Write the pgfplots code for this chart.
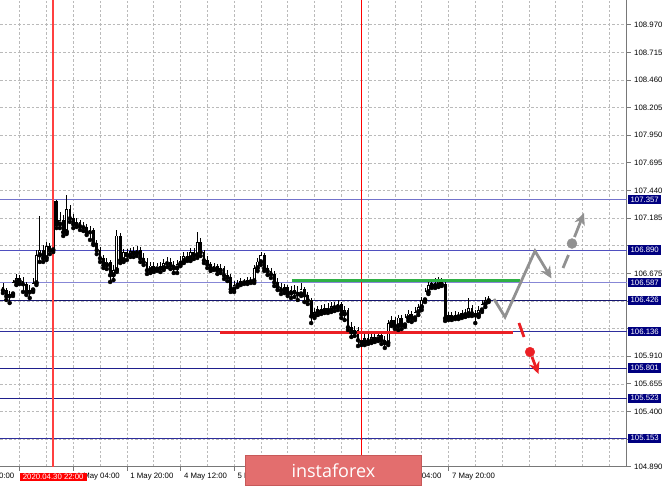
\documentclass[border=0pt]{standalone}
\usepackage{pgfplots}
\pgfplotsset{compat=1.18}
\usepackage{pgfplotstable}
\usepackage{fontspec}
\setmainfont{Liberation Sans}
\newfontfamily\logofont{Open Sans}
\usetikzlibrary{arrows.meta}

\definecolor{gridc}{rgb}{0.73,0.73,0.73}
\definecolor{axc}{rgb}{0.47,0.47,0.47}
\definecolor{lvA}{rgb}{0.45,0.45,0.80}
\definecolor{lvB}{rgb}{0.31,0.31,0.75}
\definecolor{lvC}{rgb}{0.53,0.53,0.84}
\definecolor{lvD}{rgb}{0.08,0.08,0.43}
\definecolor{lvE}{rgb}{0.18,0.18,0.61}
\definecolor{lvF}{rgb}{0.12,0.12,0.55}
\definecolor{navyc}{rgb}{0,0,0.5}
\definecolor{grn}{rgb}{0.18,0.69,0.27}
\definecolor{redl}{rgb}{0.92,0.12,0.14}
\definecolor{arrg}{rgb}{0.57,0.57,0.57}
\definecolor{logoc}{rgb}{0.89,0.43,0.43}
\definecolor{logob}{rgb}{0.78,0.35,0.35}

\newcommand{\lab}{\fontsize{7.8}{9}\selectfont}

\pgfplotstableread{
t o h l c
-21 106.549 106.586 106.493 106.521
-20 106.521 106.540 106.429 106.466
-19 106.466 106.512 106.401 106.484
-18 106.484 106.613 106.466 106.595
-17 106.595 106.669 106.567 106.632
-16 106.632 106.660 106.577 106.604
-15 106.604 106.641 106.503 106.577
-14 106.577 106.595 106.475 106.503
-13 106.503 106.567 106.447 106.521
-12 106.521 106.632 106.503 106.586
-11 106.586 106.890 106.567 106.844
-10 106.844 107.204 106.780 106.890
-9 106.890 106.937 106.780 106.817
-8 106.817 106.964 106.798 106.927
-7 106.927 106.955 106.853 106.890
-6 106.890 107.352 106.872 107.343
-5 107.343 107.352 107.093 107.130
-4 107.130 107.241 107.093 107.167
-3 107.167 107.213 107.020 107.057
-2 107.057 107.398 107.038 107.269
-1 107.269 107.306 107.149 107.186
0 107.186 107.223 107.093 107.130
1 107.130 107.186 107.103 107.149
2 107.149 107.167 107.075 107.112
3 107.112 107.149 107.066 107.103
4 107.103 107.130 107.029 107.057
5 107.057 107.112 106.983 107.075
6 107.075 107.093 106.937 106.955
7 106.955 106.983 106.853 106.890
8 106.890 106.918 106.780 106.817
9 106.817 106.844 106.724 106.752
10 106.752 106.817 106.715 106.780
11 106.780 106.798 106.595 106.660
12 106.660 106.752 106.613 106.706
13 106.706 107.075 106.687 107.020
14 107.020 107.047 106.770 106.798
15 106.798 106.900 106.780 106.872
16 106.872 106.900 106.798 106.844
17 106.844 106.909 106.826 106.881
18 106.881 106.918 106.826 106.863
19 106.863 106.927 106.835 106.890
20 106.890 106.918 106.780 106.817
21 106.817 106.863 106.752 106.780
22 106.780 106.817 106.669 106.706
23 106.706 106.780 106.678 106.743
24 106.743 106.780 106.687 106.715
25 106.715 106.770 106.697 106.743
26 106.743 106.780 106.687 106.724
27 106.724 106.807 106.706 106.770
28 106.770 106.826 106.733 106.780
29 106.780 106.817 106.715 106.752
30 106.752 106.789 106.678 106.724
31 106.724 106.798 106.678 106.761
32 106.761 106.835 106.743 106.789
33 106.789 106.872 106.770 106.835
34 106.835 106.872 106.789 106.817
35 106.817 106.909 106.789 106.872
36 106.872 106.909 106.807 106.844
37 106.844 107.057 106.817 106.964
38 106.964 107.001 106.835 106.872
39 106.872 106.890 106.770 106.798
40 106.798 106.835 106.724 106.761
41 106.761 106.780 106.697 106.724
42 106.724 106.770 106.706 106.743
43 106.743 106.761 106.669 106.706
44 106.706 106.761 106.678 106.724
45 106.724 106.743 106.623 106.660
46 106.660 106.706 106.604 106.641
47 106.641 106.669 106.503 106.530
48 106.530 106.604 106.503 106.567
49 106.567 106.613 106.549 106.586
50 106.586 106.632 106.567 106.604
51 106.604 106.623 106.577 106.595
52 106.595 106.641 106.577 106.613
53 106.613 106.641 106.586 106.604
54 106.604 106.752 106.586 106.724
55 106.724 106.817 106.697 106.780
56 106.780 106.872 106.752 106.844
57 106.844 106.863 106.697 106.724
58 106.724 106.752 106.660 106.697
59 106.697 106.724 106.632 106.669
60 106.669 106.697 106.558 106.595
61 106.595 106.632 106.521 106.549
62 106.549 106.586 106.484 106.521
63 106.521 106.577 106.493 106.549
64 106.549 106.567 106.466 106.493
65 106.493 106.558 106.447 106.521
66 106.521 106.567 106.457 106.503
67 106.503 106.558 106.429 106.484
68 106.484 106.586 106.466 106.530
69 106.530 106.549 106.410 106.475
70 106.475 106.503 106.392 106.429
71 106.429 106.447 106.216 106.281
72 106.281 106.355 106.263 106.318
73 106.318 106.373 106.290 106.346
74 106.346 106.383 106.300 106.327
75 106.327 106.392 106.309 106.355
76 106.355 106.401 106.309 106.336
77 106.336 106.410 106.318 106.373
78 106.373 106.410 106.327 106.364
79 106.364 106.429 106.336 106.392
80 106.392 106.410 106.263 106.300
81 106.300 106.373 106.244 106.336
82 106.336 106.355 106.152 106.180
83 106.180 106.226 106.087 106.133
84 106.133 106.189 106.097 106.152
85 106.152 106.180 106.004 106.060
86 106.060 106.097 106.013 106.041
87 106.041 106.115 106.013 106.078
88 106.078 106.115 106.023 106.050
89 106.050 106.133 106.032 106.087
90 106.087 106.124 106.041 106.069
91 106.069 106.143 106.050 106.106
92 106.106 106.124 106.023 106.060
93 106.060 106.097 105.986 106.032
94 106.032 106.244 106.013 106.216
95 106.216 106.281 106.189 106.244
96 106.244 106.272 106.161 106.189
97 106.189 106.290 106.152 106.263
98 106.263 106.290 106.161 106.198
99 106.198 106.300 106.180 106.263
100 106.263 106.336 106.235 106.300
101 106.300 106.327 106.226 106.263
102 106.263 106.364 106.244 106.318
103 106.318 106.392 106.290 106.364
104 106.364 106.457 106.336 106.429
105 106.429 106.540 106.410 106.503
106 106.503 106.604 106.484 106.567
107 106.567 106.623 106.540 106.586
108 106.586 106.632 106.540 106.567
109 106.567 106.641 106.549 106.604
110 106.604 106.632 106.558 106.577
111 106.577 106.604 106.235 106.263
112 106.263 106.318 106.244 106.290
113 106.290 106.318 106.244 106.272
114 106.272 106.327 106.253 106.290
115 106.290 106.318 106.253 106.281
116 106.281 106.336 106.263 106.309
117 106.309 106.346 106.272 106.300
118 106.300 106.447 106.281 106.355
119 106.355 106.383 106.281 106.309
120 106.309 106.336 106.216 106.290
121 106.290 106.373 106.272 106.336
122 106.336 106.429 106.318 106.392
123 106.392 106.457 106.364 106.429
124 106.429 106.466 106.410 106.438
}\candles

\begin{document}
\begin{tikzpicture}
\useasboundingbox (0pt,0pt) rectangle (665pt,487pt);
\begin{axis}[
  at={(0pt,487pt)}, anchor=north west,
  scale only axis, width=626.7pt, height=466.7pt,
  xmin=-21.88, xmax=165.2, ymin=104.89, ymax=109.198,
  clip=false,
  axis x line*=bottom, axis y line*=right,
  axis line style={axc, line width=0.9pt},
  tick style={axc, line width=0.7pt},
  tick align=outside, major tick length=4pt, minor tick length=0pt,
  xtick={-16,0,16,32,48,64,80,96,112},
  xticklabels={,1 May 04:00,1 May 20:00,4 May 12:00,5 May 04:00,,,7 May 04:00,7 May 20:00},
  minor xtick={-8,8,24,40,56,72,88,104,120,128,136,144,152,160},
  ytick={104.890,105.145,105.400,105.655,105.910,106.165,106.420,106.675,106.930,107.185,107.440,107.695,107.950,108.205,108.460,108.715,108.970},
  yticklabels={104.890,,105.400,105.655,105.910,,,106.675,,107.185,107.440,107.695,107.950,108.205,108.460,108.715,108.970},
  grid=both,
  major grid style={gridc, dash pattern=on 2.5pt off 2pt, line width=0.6pt},
  minor grid style={gridc, dash pattern=on 2.5pt off 2pt, line width=0.6pt},
  xticklabel style={anchor=west, yshift=-6.3pt, font=\lab, text=black},
  yticklabel style={anchor=west, font=\lab, text=black},
  /pgf/number format/assume math mode=true,
]
% level lines
\addplot[color=lvA, line width=1pt] coordinates {(-21.88,107.357) (165.2,107.357)};
\addplot[color=lvB, line width=1pt] coordinates {(-21.88,106.890) (165.2,106.890)};
\addplot[color=lvC, line width=1pt] coordinates {(-21.88,106.587) (165.2,106.587)};
\addplot[color=lvD, line width=1pt] coordinates {(-21.88,106.426) (165.2,106.426)};
\addplot[color=lvE, line width=1pt] coordinates {(-21.88,106.136) (165.2,106.136)};
\addplot[color=lvF, line width=1pt] coordinates {(-21.88,105.801) (165.2,105.801)};
\addplot[color=lvF, line width=1pt] coordinates {(-21.88,105.523) (165.2,105.523)};
\addplot[color=lvE, line width=1pt] coordinates {(-21.88,105.153) (165.2,105.153)};

% candles: wicks
\addplot[only marks, mark=none, error bars/.cd, y dir=plus, y explicit, error mark=none,
  error bar style={black, line width=0.7pt}]
  table[x=t, y=l, y error expr={\thisrow{h}-\thisrow{l}}] {\candles};
% bodies
\addplot[only marks, mark=none, error bars/.cd, y dir=plus, y explicit, error mark=none,
  error bar style={black, line width=2.8pt}]
  table[x=t, y expr={min(\thisrow{o},\thisrow{c})-0.003}, y error expr={abs(\thisrow{c}-\thisrow{o})+0.006}] {\candles};
% bullish interiors
\addplot[only marks, mark=none, restrict expr to domain={\thisrow{c}-\thisrow{o}}{0.02:5},
  error bars/.cd, y dir=plus, y explicit, error mark=none,
  error bar style={white, line width=1.3pt}]
  table[x=t, y expr={\thisrow{o}+0.005}, y error expr={\thisrow{c}-\thisrow{o}-0.010}] {\candles};

% vertical lines
\addplot[red!75, line width=1.5pt] coordinates {(-6,104.89) (-6,109.198)};
\addplot[red, line width=1pt] coordinates {(86,104.89) (86,109.198)};

% green and red support/resistance
\addplot[color=grn, line width=3pt] coordinates {(65.28,106.609) (133.34,106.609)};
\addplot[color=redl, line width=3pt] coordinates {(43.79,106.133) (131.25,106.133)};

% gray scenario arrows
\addplot[color=arrg, line width=2.8pt, line join=miter, -{Stealth[length=12pt,width=11pt]}]
  coordinates {(125.58,106.438) (128.87,106.272) (137.82,106.881) (142.75,106.627)};
\addplot[color=arrg, line width=2.8pt] coordinates {(146.18,106.724) (147.82,106.844)};
\addplot[color=arrg, only marks, mark=*, mark size=5pt] coordinates {(148.87,106.950)};
\addplot[color=arrg, line width=2.8pt, -{Stealth[length=12pt,width=11pt]}]
  coordinates {(149.61,107.010) (152.45,107.232)};

% red scenario arrows
\addplot[color=redl, line width=2.8pt] coordinates {(133.04,106.2165) (134.54,106.087)};
\addplot[color=redl, only marks, mark=*, mark size=4.8pt] coordinates {(136.33,105.949)};
\addplot[color=redl, line width=2.8pt, -{Stealth[length=12pt,width=11pt]}]
  coordinates {(136.93,105.903) (138.87,105.746)};

% price labels
\node[fill=navyc, text=white, font=\lab, inner xsep=2.4pt, inner ysep=1.8pt, anchor=west, xshift=1.3pt] at (axis cs:165.2,107.357) {107.357};
\node[fill=navyc, text=white, font=\lab, inner xsep=2.4pt, inner ysep=1.8pt, anchor=west, xshift=1.3pt] at (axis cs:165.2,106.890) {106.890};
\node[fill=navyc, text=white, font=\lab, inner xsep=2.4pt, inner ysep=1.8pt, anchor=west, xshift=1.3pt] at (axis cs:165.2,106.587) {106.587};
\node[fill=navyc, text=white, font=\lab, inner xsep=2.4pt, inner ysep=1.8pt, anchor=west, xshift=1.3pt] at (axis cs:165.2,106.426) {106.426};
\node[fill=navyc, text=white, font=\lab, inner xsep=2.4pt, inner ysep=1.8pt, anchor=west, xshift=1.3pt] at (axis cs:165.2,106.136) {106.136};
\node[fill=navyc, text=white, font=\lab, inner xsep=2.4pt, inner ysep=1.8pt, anchor=west, xshift=1.3pt] at (axis cs:165.2,105.801) {105.801};
\node[fill=navyc, text=white, font=\lab, inner xsep=2.4pt, inner ysep=1.8pt, anchor=west, xshift=1.3pt] at (axis cs:165.2,105.523) {105.523};
\node[fill=navyc, text=white, font=\lab, inner xsep=2.4pt, inner ysep=1.8pt, anchor=west, xshift=1.3pt] at (axis cs:165.2,105.153) {105.153};
% left clipped time label
\node[anchor=west, font=\lab, yshift=-10.3pt] at (axis cs:-32,104.89) {29 Apr 20:00};
% cursor time label
\node[fill=red, text=white, font=\lab, inner xsep=3pt, inner ysep=1.6pt, yshift=-10.3pt] at (axis cs:-6,104.89) {2020.04.30 22:00};
% logo
\node[fill=logoc, draw=logob, line width=0.8pt, minimum width=176.7pt, minimum height=29.3pt, inner sep=0pt, text=white, font=\logofont\fontsize{18}{18}\selectfont] at (axis cs:77.63,104.856) {instaforex};
\end{axis}
\end{tikzpicture}
\end{document}
